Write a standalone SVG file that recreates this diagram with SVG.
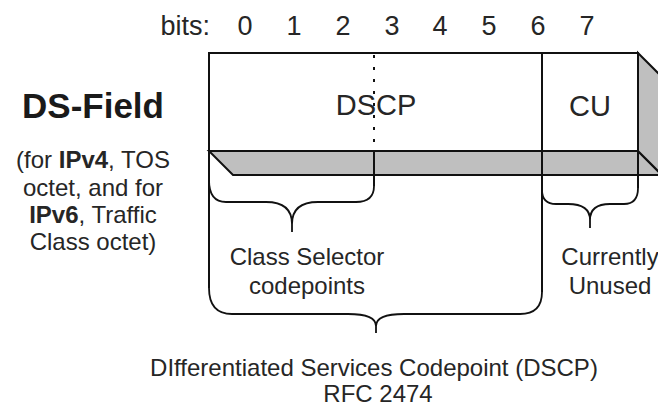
<svg xmlns="http://www.w3.org/2000/svg" width="658" height="409" viewBox="0 0 658 409">
  <style>
    text { font-family: "Liberation Sans", Arial, sans-serif; fill: #262626; }
    .bits { font-size: 27px; }
    .title { font-size: 35px; font-weight: bold; fill: #1a1a1a; }
    .note { font-size: 24px; }
    .field { font-size: 29px; }
    .edge { stroke: #111; stroke-width: 2; fill: none; }
    .shade { fill: #bfbfbf; stroke: #111; stroke-width: 2; stroke-linejoin: miter; }
    .brace { stroke: #111; stroke-width: 1.8; fill: none; stroke-linejoin: round; }
    .dots { stroke: #111; stroke-width: 2; stroke-dasharray: 3 9; }
  </style>

  <rect x="0" y="0" width="658" height="409" fill="#ffffff"/>

  <!-- bit ruler above the octet -->
  <g id="bit-ruler" class="bits">
    <text x="210" y="35" text-anchor="end">bits:</text>
    <g text-anchor="middle">
      <text x="245" y="35">0</text>
      <text x="294" y="35">1</text>
      <text x="343" y="35">2</text>
      <text x="392" y="35">3</text>
      <text x="440" y="35">4</text>
      <text x="489" y="35">5</text>
      <text x="538" y="35">6</text>
      <text x="587" y="35">7</text>
    </g>
  </g>

  <!-- left caption -->
  <g id="ds-field-label" text-anchor="middle">
    <text class="title" x="93" y="118">DS-Field</text>
    <text class="note" x="93" y="168">(for <tspan font-weight="bold">IPv4</tspan>, TOS</text>
    <text class="note" x="93" y="196">octet, and for</text>
    <text class="note" x="93" y="223"><tspan font-weight="bold">IPv6</tspan>, Traffic</text>
    <text class="note" x="93" y="250">Class octet)</text>
  </g>

  <!-- octet drawn as an extruded bar -->
  <g id="octet">
    <polygon class="shade" points="209,151 638,151 662,175 233,175"/>
    <polygon class="shade" points="638,53 662,77 662,175 638,151"/>
    <rect class="edge" x="209" y="53" width="429" height="98" fill="#ffffff"/>
  </g>

  <g id="dscp">
    <line class="dots" x1="374" y1="55" x2="374" y2="151"/>
    <text class="field" x="376" y="115" text-anchor="middle">DSCP</text>
  </g>

  <g id="cu">
    <text class="field" x="590" y="116" text-anchor="middle">CU</text>
  </g>

  <!-- leaders and braces -->
  <g id="connectors">
    <line class="edge" x1="209" y1="53" x2="209" y2="288"/>
    <line class="edge" x1="542" y1="53" x2="542" y2="292"/>
    <line class="edge" x1="638" y1="151" x2="638" y2="188"/>
    <line class="edge" x1="374" y1="151" x2="374" y2="186"/>
    <path class="brace" d="M209,180 Q209,202 226,202 L266,202 Q292,202 292,224 L292,232 M292,224 Q292,202 318,202 L356,202 Q374,202 374,186"/>
    <path class="brace" d="M542,190 Q542,204 556,204 L568,204 Q590,204 590,220 L590,228 M590,220 Q590,204 610,204 L624,204 Q638,204 638,188"/>
    <path class="brace" d="M209,288 Q209,314 232,314 L348,314 Q376,314 376,326 L376,333 M376,326 Q376,314 404,314 L520,314 Q542,314 542,292"/>
  </g>

  <g id="class-selector" class="note" text-anchor="middle">
    <text x="307" y="265">Class Selector</text>
    <text x="307" y="294">codepoints</text>
  </g>

  <g id="currently-unused" class="note" text-anchor="middle">
    <text x="610" y="265">Currently</text>
    <text x="610" y="294">Unused</text>
  </g>

  <g id="dscp-caption" class="note" text-anchor="middle">
    <text x="374" y="376">DIfferentiated Services Codepoint (DSCP)</text>
    <text x="378" y="402">RFC 2474</text>
  </g>
</svg>
